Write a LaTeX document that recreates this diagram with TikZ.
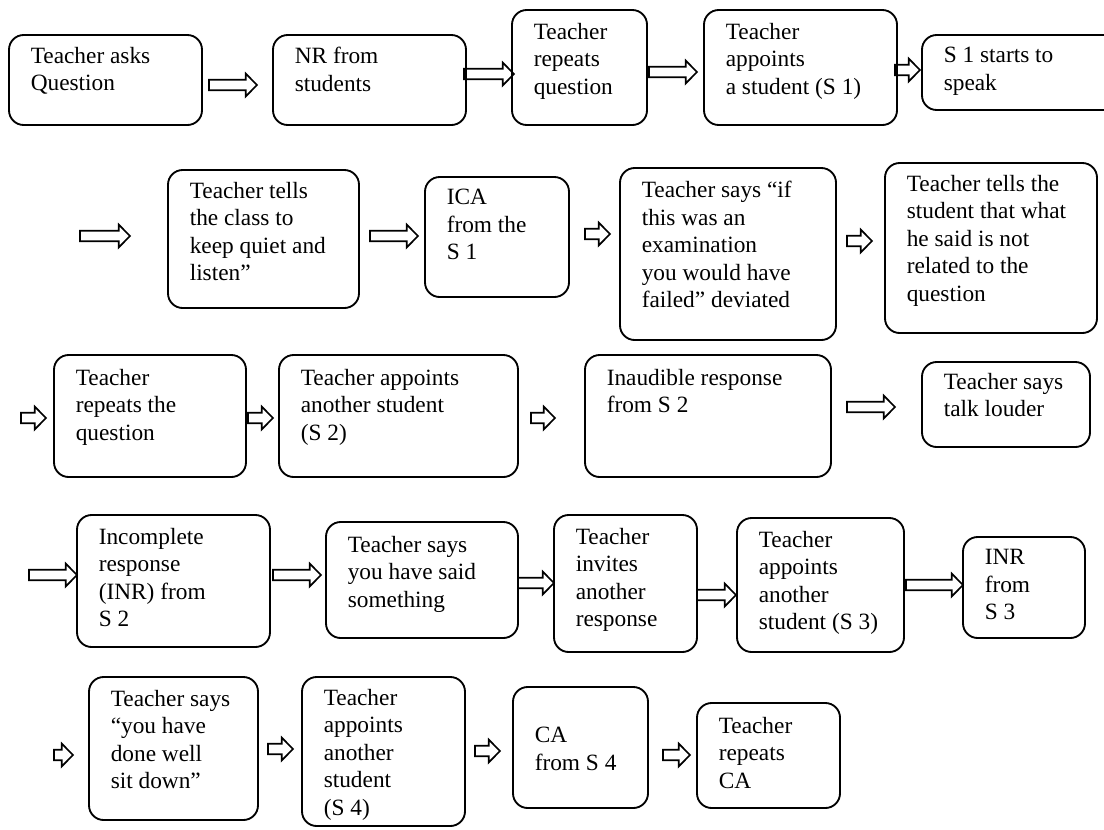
\documentclass[tikz,border=0pt]{standalone}
\usepackage{fontspec}
\setmainfont{Liberation Serif}
\usetikzlibrary{calc}

\tikzset{
  flowbox/.style={draw, line width=1.4pt, rounded corners=11pt, inner sep=0pt, outer sep=0pt},
  flowtext/.style={anchor=north west, inner sep=0pt, align=left,
    font=\fontsize{17.5pt}{20.6pt}\selectfont},
  % hollow block arrow from the start point to the target's x, at the start's height
  harrow/.style={draw, line width=1.25pt, line join=miter, to path={
    let \p1=(\tikztostart), \p2=(\tikztotarget) in
    (\x1,\y1+3.9pt) -- (\x2-8.5pt,\y1+3.9pt) -- (\x2-8.5pt,\y1+8.6pt) -- (\x2,\y1)
    -- (\x2-8.5pt,\y1-8.6pt) -- (\x2-8.5pt,\y1-3.9pt) -- (\x1,\y1-3.9pt) -- cycle}}
}

% name, left, top, right, bottom, text offset from top, text
\newcommand\stagebox[7]{%
  \node[flowbox, minimum width={(#4-#2)*0.75pt}, minimum height={(#5-#3)*0.75pt}]
    (#1) at ({(#2+#4)/2},{(#3+#5)/2}) {};
  \node[flowtext] (#1-text) at ([shift={(21.5,#6)}]#1.north west) {#7};
}

\begin{document}
\begin{tikzpicture}[x=0.75pt, y=-0.75pt]
\useasboundingbox (0,0) rectangle (1104,829);
\fill[white] (0,0) rectangle (1104,829);
\clip (0,0) rectangle (1104,829);

% row 1
\stagebox{b1}{9}{35}{202}{125}{12}{Teacher asks\\Question}
\stagebox{b2}{273}{35}{466}{125}{12}{NR from\\students}
\stagebox{b3}{512}{10}{647}{125}{13}{Teacher\\repeats\\question}
\stagebox{b4}{704}{10}{897}{125}{13}{Teacher\\appoints\\a student (S 1)}
\stagebox{b5}{922}{35}{1120}{110}{12}{S 1 starts to\\speak}

% row 2
\stagebox{b6}{168}{170}{359}{308}{12}{Teacher tells\\the class to\\keep quiet and\\listen”}
\stagebox{b7}{425}{177}{569}{297}{12}{ICA\\from the\\S 1}
\stagebox{b8}{620}{168}{836}{340}{13}{Teacher says “if\\this was an\\examination\\you would have\\failed” deviated}
\stagebox{b9}{885}{163}{1097}{333}{12}{Teacher tells the\\student that what\\he said is not\\related to the\\question}

% row 3
\stagebox{b10}{54}{355}{246}{477}{14}{Teacher\\repeats the\\question}
\stagebox{b11}{279}{355}{518}{477}{14}{Teacher appoints\\another student\\(S 2)}
\stagebox{b12}{585}{355}{831}{477}{14}{Inaudible response\\from S 2}
\stagebox{b13}{922}{362}{1090}{447}{11}{Teacher says\\talk louder}

% row 4
\stagebox{b14}{77}{515}{270}{647}{13}{Incomplete\\response\\(INR) from\\S 2}
\stagebox{b15}{326}{522}{518}{638}{14}{Teacher says\\you have said\\something}
\stagebox{b16}{554}{515}{697}{652}{13}{Teacher\\invites\\another\\response}
\stagebox{b17}{737}{518}{904}{652}{13}{Teacher\\appoints\\another\\student (S 3)}
\stagebox{b18}{963}{537}{1085}{638}{12}{INR\\from\\S 3}

% row 5
\stagebox{b19}{89}{677}{258}{820}{13}{Teacher says\\“you have\\done well\\sit down”}
\stagebox{b20}{302}{677}{465}{826}{12}{Teacher\\appoints\\another\\student\\(S 4)}
\stagebox{b21}{513}{687}{648}{808}{40}{CA\\from S 4}
\stagebox{b22}{697}{703}{840}{808}{14}{Teacher\\repeats\\CA}

% connectors
\draw[harrow] ([shift={(7,5)}]b1.east) to ([shift={(-16,0)}]b2.west);
\draw[harrow] ([shift={(-2,-6)}]b2.east) to ([shift={(2,0)}]b3.west);
\draw[harrow] ([shift={(2,4.5)}]b3.east) to ([shift={(-7,0)}]b4.west);
\draw[harrow] ([shift={(-2,2.5)}]b4.east) to ([shift={(-2,0)}]b5.west);

\draw[harrow] ([shift={(-88,-3)}]b6.west) to ([shift={(-38,0)}]b6.west);
\draw[harrow] ([shift={(11,-3)}]b6.east) to ([shift={(-7,0)}]b7.west);
\draw[harrow] ([shift={(16,-3)}]b7.east) to ([shift={(-10,0)}]b8.west);
\draw[harrow] ([shift={(11,-13)}]b8.east) to ([shift={(-13,0)}]b9.west);

\draw[harrow] ([shift={(-33,2)}]b10.west) to ([shift={(-8,0)}]b10.west);
\draw[harrow] ([shift={(2,2)}]b10.east) to ([shift={(-6,0)}]b11.west);
\draw[harrow] ([shift={(13,2)}]b11.east) to ([shift={(-30,0)}]b12.west);
\draw[harrow] ([shift={(16,-9)}]b12.east) to ([shift={(-27,0)}]b13.west);

\draw[harrow] ([shift={(-48,-6)}]b14.west) to ([shift={(0,0)}]b14.west);
\draw[harrow] ([shift={(3,-6)}]b14.east) to ([shift={(-5,0)}]b15.west);
\draw[harrow] ([shift={(0,3)}]b15.east) to ([shift={(0,0)}]b16.west);
\draw[harrow] ([shift={(0,11.5)}]b16.east) to ([shift={(-1,0)}]b17.west);
\draw[harrow] ([shift={(2,0)}]b17.east) to ([shift={(0,0)}]b18.west);

\draw[harrow] ([shift={(-35,6.5)}]b19.west) to ([shift={(-16,0)}]b19.west);
\draw[harrow] ([shift={(10,0.5)}]b19.east) to ([shift={(-9,0)}]b20.west);
\draw[harrow] ([shift={(10,-0.5)}]b20.east) to ([shift={(-13,0)}]b21.west);
\draw[harrow] ([shift={(15,7.5)}]b21.east) to ([shift={(-7,0)}]b22.west);
\end{tikzpicture}
\end{document}
